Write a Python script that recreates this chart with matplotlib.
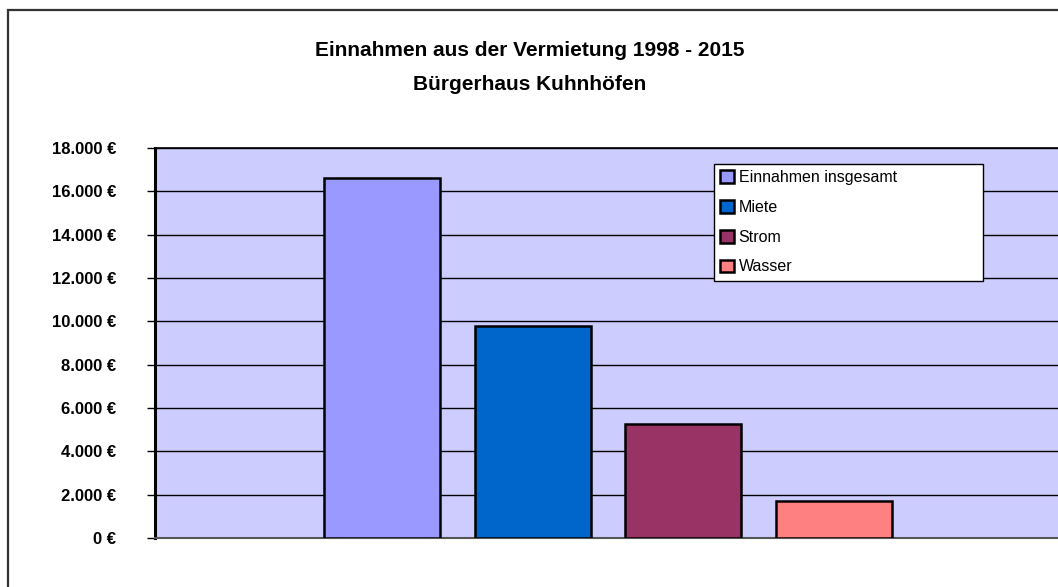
import matplotlib.pyplot as plt
from matplotlib.patches import Rectangle, Patch
from matplotlib.ticker import FuncFormatter

# Daten
serien = ['Einnahmen insgesamt', 'Miete', 'Strom', 'Wasser']
werte = [16600, 9780, 5250, 1720]
farben = ['#9999FF', '#0066CC', '#993366', '#FF8080']
y_ticks = list(range(0, 18001, 2000))

plt.rcParams['font.family'] = ['Liberation Sans', 'DejaVu Sans']

W, H = 1058, 587
fig = plt.figure(figsize=(W / 100, H / 100), dpi=100)

# Rahmen um das ganze Diagramm (rechts/unten abgeschnitten)
fig.patches.append(Rectangle((8 / W, -0.2), 1.2, 1.2 - 10 / H,
                             transform=fig.transFigure, fill=False,
                             edgecolor='#333333', linewidth=1.6))

ax = fig.add_axes([155 / W, 49 / H, 906 / W, 390 / H])
ax.set_facecolor('#CCCCFF')

# Balken: eine Kategorie, vier Serien
breite = 0.128
abstand = 0.166
for i, (name, wert, farbe) in enumerate(zip(serien, werte, farben)):
    ax.bar(0.5 + (i - 1.5) * abstand, wert, width=breite, color=farbe,
           edgecolor='black', linewidth=1.8, label=name, zorder=3)

ax.set_xlim(0, 1)
ax.set_ylim(0, 18000)
ax.set_yticks(y_ticks)
ax.yaxis.set_major_formatter(FuncFormatter(lambda v, p: f'{int(v):,} €'.replace(',', '.')))
ax.set_xticks([])
ax.grid(axis='y', color='black', linewidth=1.0, zorder=1)
ax.set_axisbelow(True)

ax.spines['right'].set_visible(False)
ax.spines['top'].set_linewidth(1.2)
ax.spines['left'].set_linewidth(2.2)
ax.spines['left'].set_color('black')
ax.spines['bottom'].set_linewidth(1.5)
ax.spines['bottom'].set_color('#555555')
ax.tick_params(axis='y', direction='out', length=6, width=1, pad=22,
               labelsize=12)
for lbl in ax.get_yticklabels():
    lbl.set_fontweight('bold')

# Legende
handles = [Patch(facecolor=c, edgecolor='black', linewidth=1.8) for c in farben]
leg = fig.legend(handles, serien, loc='upper left',
                 bbox_to_anchor=(714 / W, 1 - 164 / H, 269 / W, 0),
                 mode='expand',
                 fontsize=11.5, frameon=True, fancybox=False,
                 edgecolor='black', framealpha=1, borderpad=0.4,
                 handlelength=0.85, handleheight=0.85, handletextpad=0.3,
                 labelspacing=0.92, borderaxespad=0)
leg.get_frame().set_linewidth(1)

# Titel
fig.text(530 / W, 1 - 50 / H, 'Einnahmen aus der Vermietung 1998 - 2015',
         ha='center', va='center', fontsize=15, fontweight='bold')
fig.text(530 / W, 1 - 84 / H, 'Bürgerhaus Kuhnhöfen',
         ha='center', va='center', fontsize=15, fontweight='bold')

fig.savefig('out.png', dpi=100)
